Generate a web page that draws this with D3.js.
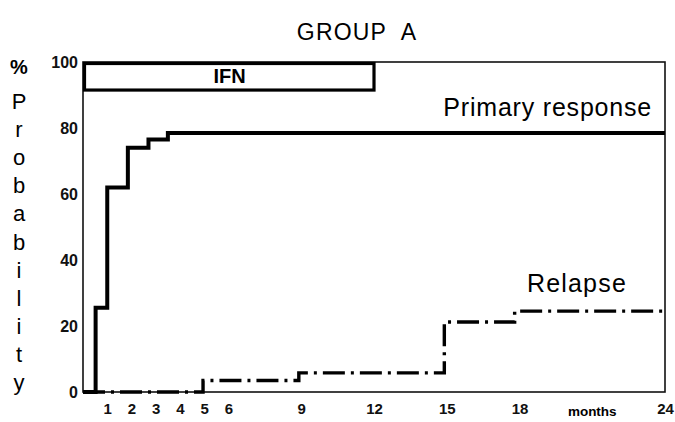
<!DOCTYPE html>
<html>
<head>
<meta charset="utf-8">
<script src="https://cdn.jsdelivr.net/npm/d3@7/dist/d3.min.js"></script>
<style>
  html, body { margin: 0; padding: 0; background: #fff; }
  svg { display: block; font-family: "Liberation Sans", Arial, Helvetica, sans-serif; }
</style>
</head>
<body>
<svg id="chart" width="675" height="422"></svg>
<script>
// ---- data ----
const xTickMonths = [1, 2, 3, 4, 5, 6, 9, 12, 15, 18, 24];
const yTickValues = [0, 20, 40, 60, 80, 100];
const primaryTimes  = [0, 0.52, 1.0, 1.85, 2.7, 3.5, 24];
const primaryValues = [0, 25.5, 62, 74, 76.5, 78.5, 78.5];
const relapseTimes  = [0, 4.95, 8.9, 14.9, 17.8, 24];
const relapseValues = [0, 3.5, 5.8, 21.2, 24.5, 24.5];
const ifnPeriod = [0, 12];
const yLabelLetters = ["P", "r", "o", "b", "a", "b", "i", "l", "i", "t", "y"];

// ---- layout ----
const svg = d3.select("#chart");
const L = 83, R = 665, T = 62, B = 392;
const x = d3.scaleLinear().domain([0, 24]).range([L, R]);
const y = d3.scaleLinear().domain([0, 100]).range([B, T]);

// frame
svg.append("rect")
  .attr("x", L).attr("y", T).attr("width", R - L).attr("height", B - T)
  .attr("fill", "none").attr("stroke", "#111").attr("stroke-width", 1.6);

// IFN box
svg.append("rect")
  .attr("x", x(ifnPeriod[0]) + 1.5).attr("y", y(100) + 1.5)
  .attr("width", x(ifnPeriod[1]) - x(ifnPeriod[0]) - 1.5)
  .attr("height", y(91.5) - y(100) - 1.5)
  .attr("fill", "none").attr("stroke", "#000").attr("stroke-width", 3.2);
svg.append("text")
  .attr("x", (x(ifnPeriod[0]) + x(ifnPeriod[1])) / 2 + 1)
  .attr("y", (y(100) + y(91.5)) / 2 + 7)
  .attr("text-anchor", "middle").attr("font-size", 20).attr("font-weight", "bold")
  .text("IFN");

// axes (labels only)
const yAxis = d3.axisLeft(y).tickValues(yTickValues).tickSize(0).tickPadding(5);
const gy = svg.append("g").attr("transform", `translate(${L},0)`).call(yAxis);
gy.select(".domain").remove();
gy.selectAll("text").attr("font-size", 16).attr("font-weight", "bold")
  .attr("font-family", "Liberation Sans, Arial, sans-serif").attr("fill", "#111");

const xAxis = d3.axisBottom(x).tickValues(xTickMonths).tickSize(0).tickPadding(11);
const gx = svg.append("g").attr("transform", `translate(0,${B})`).call(xAxis);
gx.select(".domain").remove();
gx.selectAll("text").attr("font-size", 15).attr("font-weight", "bold")
  .attr("font-family", "Liberation Sans, Arial, sans-serif").attr("fill", "#111");

svg.append("text")
  .attr("x", x(21)).attr("y", B + 24)
  .attr("text-anchor", "middle").attr("font-size", 13.5).attr("font-weight", "bold")
  .text("months");

// lines
const line = d3.line().x(d => x(d[0])).y(d => y(d[1])).curve(d3.curveStepAfter);

svg.append("path")
  .datum(primaryTimes.map((t, i) => [t, primaryValues[i]]))
  .attr("d", line)
  .attr("fill", "none").attr("stroke", "#000").attr("stroke-width", 4)
  .attr("stroke-linejoin", "miter");

svg.append("path")
  .datum(relapseTimes.map((t, i) => [t, relapseValues[i]]))
  .attr("d", line)
  .attr("fill", "none").attr("stroke", "#000").attr("stroke-width", 3.4)
  .attr("stroke-dasharray", "22,6,3,6");

// line labels
svg.append("text")
  .attr("x", 652).attr("y", y(78.5) - 17)
  .attr("text-anchor", "end").attr("font-size", 25).attr("letter-spacing", 0.8)
  .text("Primary response");
svg.append("text")
  .attr("x", 627).attr("y", y(24.5) - 19)
  .attr("text-anchor", "end").attr("font-size", 25).attr("letter-spacing", 1.2)
  .text("Relapse");

// title
svg.append("text")
  .attr("x", 357).attr("y", 40)
  .attr("text-anchor", "middle").attr("font-size", 23).attr("letter-spacing", 1.2)
  .attr("xml:space", "preserve")
  .text("GROUP  A");

// vertical y label
svg.append("text")
  .attr("x", 19).attr("y", 74)
  .attr("text-anchor", "middle").attr("font-size", 20).attr("font-weight", "bold")
  .text("%");
const letterScale = d3.scaleLinear().domain([0, yLabelLetters.length - 1]).range([109, 390]);
svg.append("g").selectAll("text").data(yLabelLetters).join("text")
  .attr("x", 19).attr("y", (d, i) => letterScale(i))
  .attr("text-anchor", "middle").attr("font-size", 22)
  .text(d => d);
</script>
</body>
</html>
